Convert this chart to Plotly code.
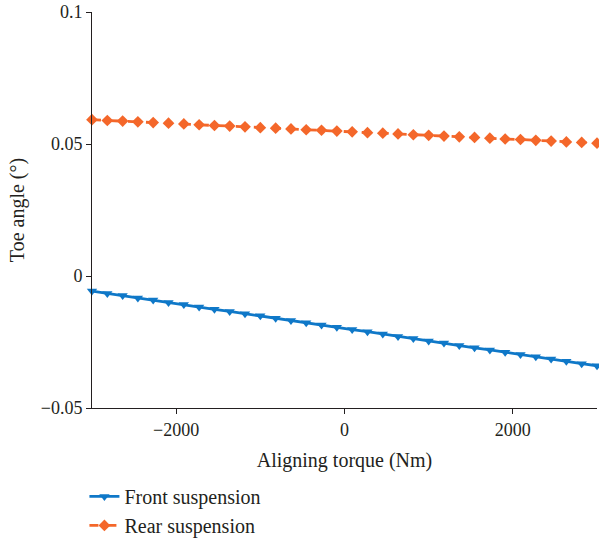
import plotly.graph_objects as go

torque = [-3000, -2818, -2636, -2455, -2273, -2091, -1909, -1727, -1545, -1364, -1182, -1000,
          -818, -636, -455, -273, -91, 91, 273, 455, 636, 818, 1000, 1182, 1364, 1545, 1727,
          1909, 2091, 2273, 2455, 2636, 2818, 3000]
front = [-0.0057, -0.0066, -0.0074, -0.0083, -0.0091, -0.0100, -0.0108, -0.0117, -0.0126, -0.0134,
         -0.0143, -0.0151, -0.0160, -0.0169, -0.0177, -0.0186, -0.0194, -0.0203, -0.0211, -0.0220,
         -0.0229, -0.0237, -0.0246, -0.0254, -0.0263, -0.0272, -0.0280, -0.0289, -0.0297, -0.0306,
         -0.0314, -0.0323, -0.0332, -0.0340]
rear = [0.0592, 0.0589, 0.0587, 0.0584, 0.0581, 0.0579, 0.0576, 0.0573, 0.0570, 0.0568, 0.0565,
        0.0562, 0.0560, 0.0557, 0.0554, 0.0552, 0.0549, 0.0546, 0.0543, 0.0541, 0.0538, 0.0535,
        0.0533, 0.0530, 0.0527, 0.0525, 0.0522, 0.0519, 0.0517, 0.0514, 0.0511, 0.0508, 0.0506,
        0.0503]
x_ticks = [-2000, 0, 2000]
y_ticks = [-0.05, 0, 0.05, 0.1]
y_tick_labels = ["\u22120.05", "0", "0.05", "0.1"]

BLUE = "#0f78c8"
ORANGE = "#f4672a"
FONT = "Liberation Serif"
TXT = "#231f20"

fig = go.Figure()
fig.add_trace(go.Scatter(
    x=torque, y=front, name="Front suspension", mode="lines+markers",
    line=dict(color=BLUE, width=2.8),
    marker=dict(symbol="triangle-down", size=9, color=BLUE),
    cliponaxis=False,
))
fig.add_trace(go.Scatter(
    x=torque, y=rear, name="Rear suspension", mode="lines+markers",
    line=dict(color=ORANGE, width=2.8, dash="dash"),
    marker=dict(symbol="diamond", size=9, color=ORANGE),
    cliponaxis=False,
))

fig.update_layout(
    width=599, height=542,
    margin=dict(l=92, r=2, t=12, b=134),
    paper_bgcolor="white", plot_bgcolor="white",
    font=dict(family=FONT, size=18, color=TXT),
    showlegend=True,
    legend=dict(x=-0.015, y=0.12, xref="paper", yref="container",
                xanchor="left", yanchor="top",
                font=dict(family=FONT, size=20, color=TXT),
                tracegroupgap=0, itemwidth=30, bgcolor="rgba(0,0,0,0)"),
    xaxis=dict(range=[-3000, 3000], tickvals=x_ticks, showline=True, linecolor=TXT,
               linewidth=1, ticks="outside", ticklen=5, tickcolor=TXT, showgrid=False,
               zeroline=False, mirror=False, tickfont=dict(family=FONT, size=18),
               title=dict(text="Aligning torque (Nm)", standoff=14,
                          font=dict(family=FONT, size=20))),
    yaxis=dict(range=[-0.05, 0.1], tickvals=y_ticks, ticktext=y_tick_labels, showline=True,
               linecolor=TXT, linewidth=1, ticks="outside", ticklen=5,
               tickcolor=TXT, showgrid=False, zeroline=False,
               tickfont=dict(family=FONT, size=18),
               title=dict(text="Toe angle (°)", standoff=10,
                          font=dict(family=FONT, size=20))),
)

fig.write_html("out.html")
